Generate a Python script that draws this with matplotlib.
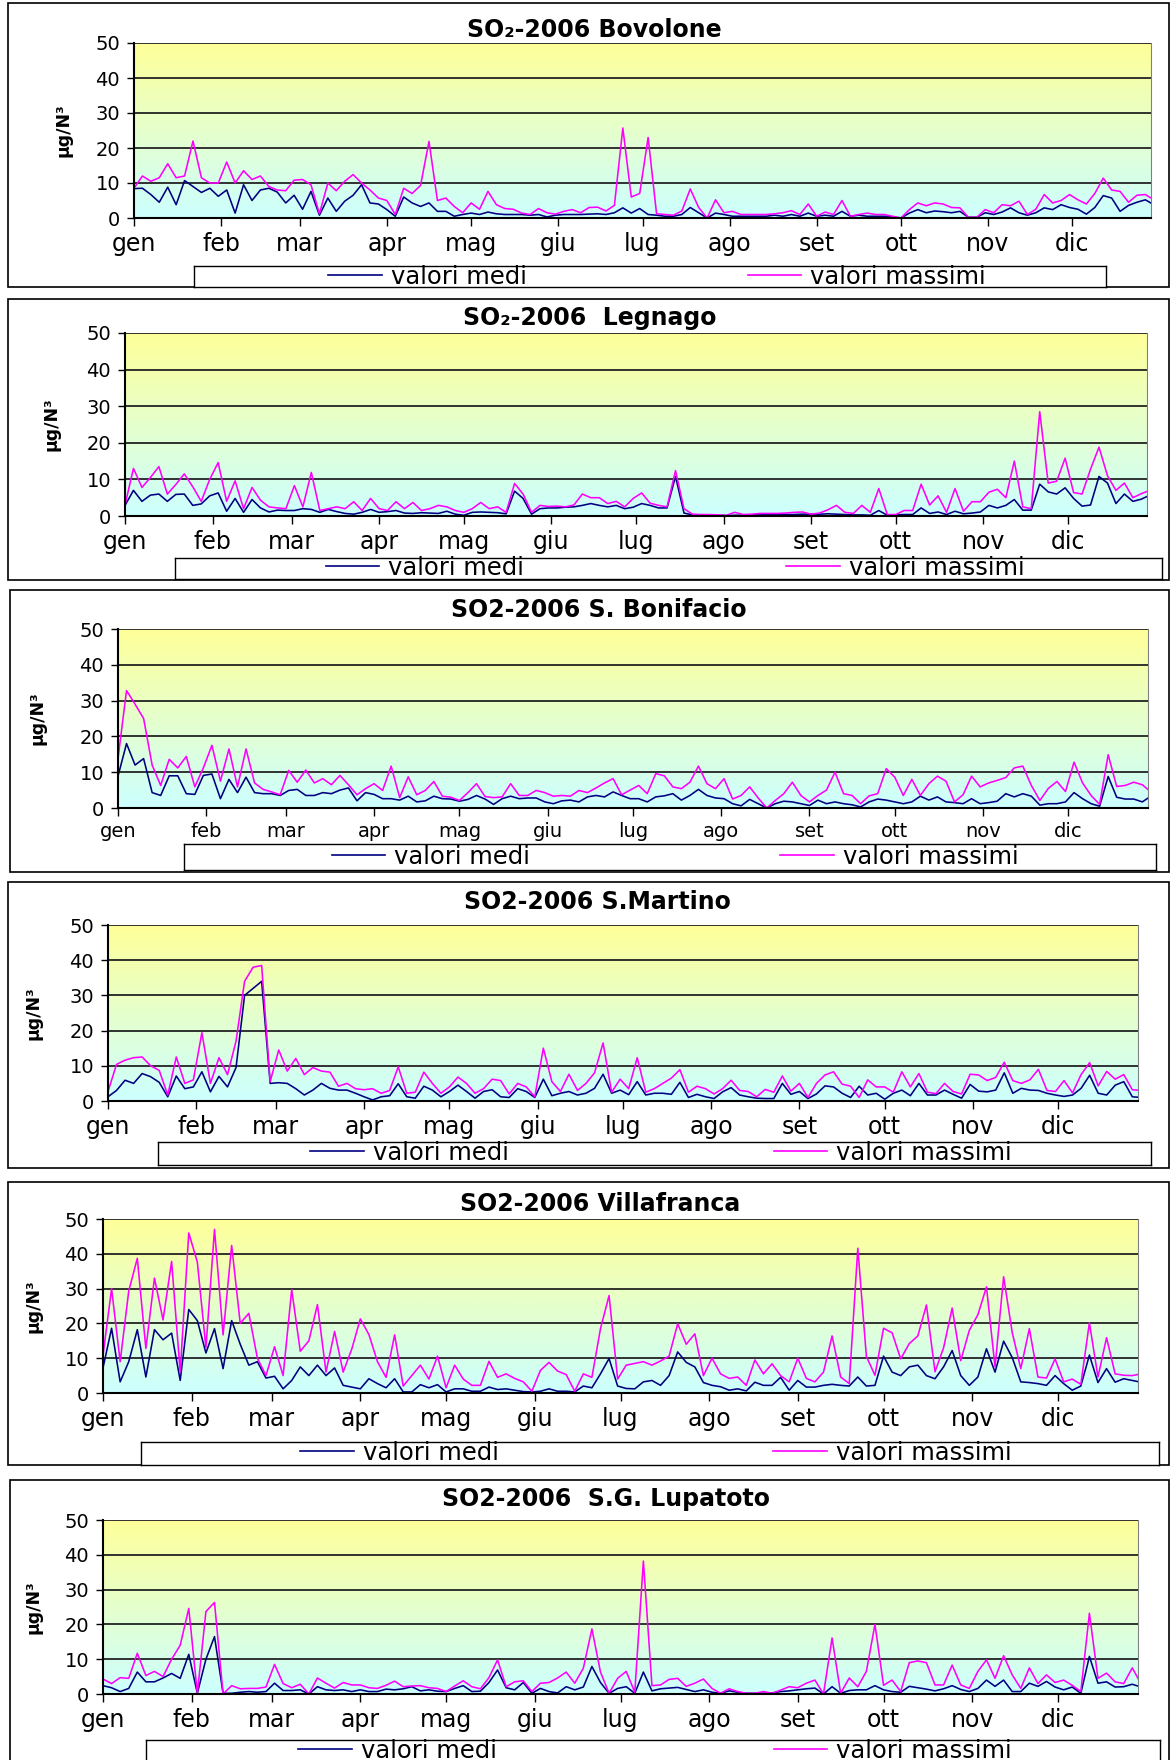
import numpy as np
import matplotlib.pyplot as plt
from matplotlib.colors import LinearSegmentedColormap
from matplotlib.lines import Line2D
from matplotlib.patches import Rectangle

# SO2 2006, values every 3 days (day 0, 3, ..., 363)
step = 3
months = ['gen', 'feb', 'mar', 'apr', 'mag', 'giu', 'lug', 'ago', 'set', 'ott', 'nov', 'dic']
month_start = [0, 31, 59, 90, 120, 151, 181, 212, 243, 273, 304, 334]

bovolone_medi = [8.4, 8.5, 6.7, 4.5, 8.8, 3.8, 10.7, 9, 7.3, 8.5,
                 6.2, 8, 1.4, 9.5, 5, 8, 8.5, 7.4, 4.3, 6.5,
                 2.5, 7.6, 0.8, 5.7, 1.9, 4.8, 6.5, 9.5, 4.3, 4,
                 2.4, 0.5, 6, 4.3, 3.3, 4.3, 1.9, 1.9, 0.5, 1,
                 1.4, 1, 1.7, 1.2, 1, 1, 1, 0.8, 1, 0.3,
                 0.8, 1, 1, 1, 1.1, 1.2, 1, 1.5, 2.9, 1.4,
                 2.7, 1, 0.8, 0.5, 0.5, 1, 3, 1.5, 0, 1.4,
                 1, 0.5, 0.5, 0.5, 0.5, 0.5, 0.8, 0.5, 1, 0.5,
                 1.4, 0.5, 0.8, 0.5, 1.9, 0.5, 0.8, 0.5, 0.5, 0.5,
                 0.3, 0, 1.4, 2.4, 1.5, 2, 1.8, 1.5, 1.9, 0.2,
                 0.2, 1.5, 1, 1.7, 2.9, 1.5, 0.8, 1.5, 2.9, 2.4,
                 3.8, 3, 2.5, 1.1, 3, 6.4, 5.7, 1.9, 3.6, 4.5,
                 5.2, 3.8]
bovolone_max = [8.5, 12, 10.5, 11.5, 15.5, 11.5, 12, 22, 11.5, 10,
                10, 16, 10, 13.5, 11, 12, 9, 8, 7.8, 10.8,
                11, 9.5, 1.2, 10, 7.8, 10.5, 12.4, 10, 8, 5.7,
                5, 1, 8.5, 7, 9.3, 21.9, 5, 5.7, 3.3, 1.5,
                4.3, 2.5, 7.6, 3.8, 2.7, 2.5, 1.4, 1, 2.7, 1.5,
                1.1, 1.9, 2.4, 1.5, 3, 3.1, 2, 3.6, 25.7, 6,
                7, 23, 1.2, 1, 0.8, 2, 8.3, 3, 0, 5.2,
                1.5, 1.9, 1, 1, 1, 1, 1.2, 1.5, 2.1, 1,
                4, 0.5, 1.7, 1, 5, 0.5, 1, 1.4, 1, 1,
                0.5, 0, 2.4, 4.3, 3.5, 4.3, 4, 3, 2.9, 0.2,
                0.2, 2.4, 1.5, 3.8, 3.5, 4.8, 1, 2.5, 6.7, 4.3,
                5, 6.7, 5.2, 4, 7, 11.4, 8, 7.6, 4.5, 6.5,
                6.7, 5.2]

legnago_medi = [2.9, 7, 4, 5.7, 6, 4, 5.9, 6, 2.9, 3.3,
                5.5, 6.3, 1.3, 4.8, 1, 4.5, 2.2, 1.1, 1.6, 1.5,
                1.5, 2, 1.8, 1, 1.8, 1.2, 0.7, 0.5, 1, 1.8,
                1, 1.2, 1.5, 0.8, 0.7, 0.9, 0.8, 0.7, 1.3, 0.5,
                0.2, 1, 1.1, 1, 0.9, 0.6, 6.8, 4.8, 0.5, 2,
                2.2, 2.2, 2.4, 2.5, 2.9, 3.4, 2.9, 2.5, 2.9, 2,
                2.4, 3.4, 2.9, 2.2, 2.2, 10.8, 0.8, 0.3, 0.2, 0.2,
                0.2, 0.1, 0.2, 0.2, 0.3, 0.4, 0.4, 0.4, 0.4, 0.4,
                0.5, 0.5, 0.5, 0.6, 0.5, 0.4, 0.3, 0.3, 0.2, 1.5,
                0.2, 0.3, 0.4, 0.4, 2.2, 0.7, 1.1, 0.4, 1.3, 0.6,
                0.8, 1.1, 2.9, 2.2, 2.9, 4.5, 1.6, 1.6, 8.7, 6.6,
                6, 7.7, 4.8, 2.7, 3, 10.8, 9, 3.4, 6, 4,
                4.6, 5.7]
legnago_max = [3, 13, 7.8, 10.5, 13.5, 6, 8.6, 11.5, 8, 4,
               10, 14.6, 4, 9.6, 2, 7.8, 4.3, 2.5, 2.2, 2,
               8.3, 2.5, 11.9, 1.5, 2, 2.5, 2, 3.9, 1.5, 4.8,
               2, 1.5, 3.9, 2, 3.7, 1.5, 2, 2.9, 2.5, 1.5,
               1, 2, 3.7, 2, 2.5, 1, 8.9, 6, 1, 2.9,
               2.6, 2.7, 2.5, 3, 6, 5, 5, 3.4, 4, 2.5,
               4.8, 6.3, 3.5, 2.9, 2.5, 12.4, 2, 0.5, 0.4, 0.4,
               0.3, 0.2, 1, 0.4, 0.5, 0.7, 0.7, 0.7, 0.8, 1,
               1.1, 0.5, 0.8, 1.7, 2.9, 1, 0.7, 2.9, 1, 7.5,
               0.4, 0.4, 1.5, 1.5, 8.7, 3, 5.5, 1, 7.5, 1.3,
               3.9, 3.9, 6.5, 7.3, 5, 15, 2.5, 2, 28.5, 9,
               9.5, 15.8, 6.4, 6, 12.8, 18.8, 11, 7, 9, 5,
               6.1, 7]

bonifacio_medi = [8.9, 18, 12, 13.8, 4.3, 3.5, 9, 9, 4, 3.8,
                  9.1, 9.5, 2.6, 8, 4.3, 8.6, 4.3, 4, 4, 3.5,
                  4.9, 5.2, 3.5, 3.5, 4.3, 4, 5, 5.6, 2, 4.3,
                  3.8, 2.6, 2.6, 2.2, 3.3, 1.7, 2, 3.3, 2.6, 2.5,
                  1.9, 2.4, 3.5, 2.5, 1, 2.6, 3.3, 2.6, 2.8, 2.8,
                  1.7, 1.2, 2, 2.2, 1.7, 3.1, 3.5, 3.1, 4.5, 3.5,
                  2.6, 2.6, 1.7, 3.1, 3.4, 4, 2.2, 3.5, 5.2, 3.5,
                  2.8, 2.6, 1.2, 0.6, 2.4, 1.2, 0, 1.2, 1.9, 1.7,
                  1.2, 0.7, 2.2, 1.2, 1.7, 1.2, 0.9, 0.3, 1.7, 2.5,
                  2.2, 1.7, 1.2, 1.7, 3.3, 2.2, 3.1, 1.7, 1.5, 1.2,
                  2.6, 1.2, 1.5, 1.9, 4, 3.1, 4, 3.3, 0.8, 1.2,
                  1.2, 1.7, 4.3, 2.6, 1.2, 0.5, 8.8, 3, 2.5, 2.5,
                  1.7, 3.3]
bonifacio_max = [13.8, 32.8, 29, 25, 12, 6.3, 13.6, 11.2, 14.4, 5.9,
                 11.2, 17.5, 7.5, 16.5, 5.9, 16.5, 7, 5.2, 4.5, 3.7,
                 10.5, 7.2, 10.6, 7, 8.2, 6.5, 9.1, 6.5, 3.7, 5.4,
                 6.8, 4.9, 11.7, 2.9, 8.7, 3.7, 4.9, 7.4, 3.3, 3,
                 2.1, 4.3, 6.8, 3.2, 2.9, 3.1, 6.8, 3.5, 3.5, 4.9,
                 4.3, 3.3, 3.5, 3.3, 4.9, 4.3, 5.6, 7, 8.2, 3.7,
                 5, 6.3, 4, 9.6, 9, 5.9, 5.4, 7.2, 11.7, 6.8,
                 5.4, 8.2, 2.5, 3.5, 5.9, 2.8, 0, 2.1, 4, 7.2,
                 3.5, 1.7, 3.5, 5, 10, 4, 3.5, 1.2, 3.4, 4,
                 11, 8.6, 3.5, 8, 3.5, 6.8, 8.9, 7.5, 1.7, 3.7,
                 8.9, 5.9, 7, 7.7, 8.5, 11.2, 11.7, 6.3, 2.1, 5.5,
                 7.4, 4.6, 12.8, 7, 3.5, 1, 14.9, 6, 6.3, 7.2,
                 6.5, 4.5]

martino_medi = [1.2, 3, 5.9, 5, 7.8, 6.9, 5.3, 1.2, 7.1, 3.5,
                4, 8.3, 2.6, 7, 4, 9.5, 30, 32, 34, 5,
                5.2, 5, 3.5, 1.7, 3.1, 5, 3.6, 3.1, 3.1, 2.2,
                1.2, 0.3, 1.2, 1.5, 4.9, 1.2, 0.8, 4.2, 3.1, 1.2,
                2.7, 4.5, 2.7, 0.8, 2.7, 3.2, 1.2, 1, 3.5, 2.7,
                1, 6.2, 1.5, 2.2, 2.7, 1.7, 2.2, 3.6, 7.6, 2.2,
                3.1, 1.8, 5.5, 1.7, 2.2, 2.2, 1.9, 5.3, 1, 1.9,
                1.2, 0.7, 2.6, 3.8, 1.7, 1.2, 0.8, 0.7, 0.7, 5,
                1.9, 2.7, 0.7, 2, 4.3, 4, 2.2, 1, 4.2, 1.7,
                2.2, 0.5, 2.2, 3.1, 1.5, 5, 1.7, 1.7, 3.1, 1.9,
                0.8, 4.7, 2.8, 2.6, 3.1, 8, 2.2, 3.6, 3.1, 3,
                2.2, 1.7, 1.3, 1.7, 3.6, 7.3, 2.2, 1.7, 4.5, 5.5,
                1.2, 1]
martino_max = [2.7, 10.4, 11.6, 12.3, 12.5, 10, 8.7, 1.7, 12.5, 5,
               6, 19.4, 5, 12.3, 7.5, 17, 34, 38, 38.5, 5.5,
               14.5, 8.5, 12.1, 7.5, 9.5, 8.5, 8.2, 4.2, 5, 3.5,
               3.2, 3.5, 2.2, 3, 9.7, 2.2, 2.5, 8.2, 5, 2.2,
               4, 6.8, 5, 2.2, 3.5, 6.2, 5.8, 2, 5, 4,
               1.2, 15, 5.5, 2.7, 7.6, 3, 5, 8, 16.5, 2.5,
               6.2, 3.5, 12.3, 2.5, 3.5, 5, 6.5, 8.9, 2.5, 4.2,
               3.5, 2, 3.5, 5.9, 3, 2.7, 1.2, 3.3, 2.5, 7.1,
               2.8, 5, 1, 5, 7.4, 8.3, 4.8, 4.2, 1, 6,
               4, 4, 2.5, 8.3, 4, 7.8, 2.5, 2.1, 5, 2.7,
               2, 7.6, 7.4, 5.8, 6.7, 11, 5.8, 5, 6, 9,
               3, 2.7, 5.8, 2.3, 7.5, 10.9, 4.3, 8.4, 6.2, 7.5,
               3.2, 3]

villafranca_medi = [7.2, 18.6, 3.2, 9, 18.2, 4.6, 18.2, 15.3, 17.2, 3.6,
                    24, 20.8, 11.5, 18.5, 7, 20.8, 14, 8, 9, 4.3,
                    4.8, 1.2, 3.6, 7.5, 5, 8, 5, 7.2, 2.2, 1.7,
                    1.2, 4.1, 2.7, 1.5, 4.1, 0.3, 0.3, 2.4, 1.5, 2.4,
                    0.3, 1.2, 1.2, 0.5, 0.5, 1.7, 1, 1.2, 0.8, 0.4,
                    0.3, 0.5, 1.2, 0.5, 0.5, 0.3, 2, 1.5, 5.5, 9.9,
                    2, 1.3, 1.2, 3.2, 3.6, 2.2, 5, 11.8, 8.8, 7.5,
                    3, 2.2, 1.8, 0.8, 1.2, 0.6, 3.1, 2.2, 2.2, 4.5,
                    0.8, 3.6, 1.7, 1.7, 2.2, 2.5, 2.2, 2, 4.6, 2,
                    2.2, 10.6, 6, 5, 7.5, 8, 5, 4.1, 7.5, 12.2,
                    5, 2.2, 4.6, 12.7, 6, 14.9, 10.2, 3.2, 3, 2.7,
                    2.2, 5, 2.7, 0.8, 2, 10.9, 3, 7, 3.1, 4.1,
                    3.6, 3.1]
villafranca_max = [10.8, 30, 9, 29.3, 38.7, 12.8, 33, 21, 37.8, 6,
                   46, 37.6, 13, 47, 16.7, 42.4, 20, 22.9, 10, 5,
                   13.3, 5, 29.7, 12, 15, 25.4, 6, 17.7, 6, 12.6,
                   21.3, 16.8, 9, 4.5, 16.7, 2, 5, 8, 4, 10.6,
                   1.5, 8, 4, 2.2, 2.2, 9.1, 4.5, 5.5, 4.2, 3.2,
                   0.5, 6.5, 8.8, 6.3, 5.3, 0.5, 5.5, 4.5, 18.5, 28,
                   4, 8, 8.5, 9, 8, 9.2, 10.6, 19.9, 14, 17,
                   5, 10, 5.5, 4.2, 4.6, 2.2, 9.5, 5.5, 8.4, 5,
                   3.2, 10, 4.2, 3.2, 6, 16.4, 4.6, 2.7, 41.6, 10.5,
                   5.1, 18.6, 17.3, 9.8, 14.2, 16.4, 25.3, 6.1, 13, 24.4,
                   9.3, 18, 22.5, 30.5, 7.5, 33.4, 17.4, 7, 18.5, 4.6,
                   4.3, 9.8, 3.2, 4, 2.5, 20.2, 4.6, 15.9, 5.5, 5.1,
                   5, 5.5]

lupatoto_medi = [2.4, 1.8, 0.7, 1.6, 6.3, 3.5, 3.5, 4.6, 5.9, 4.5,
                 11.4, 0.2, 10, 16.5, 0.2, 0.2, 0.5, 0.7, 0.5, 0.7,
                 3.1, 1, 1, 1.2, 0, 2.1, 1.2, 1, 1.2, 0.7,
                 1.2, 0.7, 0.7, 1.4, 1.2, 1.5, 2.1, 0.9, 1.2, 0.8,
                 0.7, 1.6, 2.4, 0.7, 0.8, 3.3, 6.9, 1.8, 1.2, 3.3,
                 0.2, 1.6, 0.7, 0.3, 2.1, 1.2, 2, 7.9, 3.3, 0.2,
                 1.6, 2.1, 0.2, 6.3, 0.9, 1.5, 1.7, 1.9, 1.3, 0.7,
                 1.2, 0.5, 0.2, 0.9, 0.5, 0.2, 0.2, 0.2, 0.3, 0.7,
                 0.9, 1.2, 1.5, 1.7, 0, 2.1, 0.2, 1, 1.2, 1.2,
                 2.4, 1.2, 0.7, 0.5, 2.2, 1.8, 1.4, 0.9, 1.5, 2.4,
                 1.3, 0.7, 1.6, 4, 2.2, 4, 0.7, 0.7, 3.1, 2.2,
                 3.6, 2, 1.2, 2, 0.2, 10.8, 3.1, 3.5, 2, 2.1,
                 2.8, 2]
lupatoto_max = [4.3, 3, 4.7, 4.5, 11.7, 5.3, 6.5, 5, 10, 14,
                24.6, 0.2, 23.7, 26.3, 0, 2.4, 1.5, 1.6, 1.6, 2,
                8.5, 3, 1.8, 2.8, 0, 4.6, 3.1, 1.7, 3.3, 2.6,
                2.6, 1.8, 1.6, 2.5, 3.7, 2.1, 2.3, 2.4, 1.8, 1.6,
                0.7, 2.3, 3.8, 2.1, 1.5, 4.7, 9.8, 2.1, 3.5, 3.8,
                0.7, 3.1, 3.3, 4.6, 6.3, 3.1, 7.4, 18.7, 6.3, 0.2,
                4.5, 6.5, 0.5, 38.2, 2.4, 2.6, 4.2, 4.5, 2.2, 3.1,
                4.3, 1.6, 0.2, 1.5, 0.7, 0.2, 0.2, 0.7, 0.2, 1.1,
                2.1, 1.8, 3.1, 4, 0, 16.1, 0.2, 4.6, 2.1, 6.5,
                20, 2.5, 4, 0.7, 9, 9.5, 9, 2.6, 2.6, 8.3,
                2.6, 1.6, 6.5, 9.8, 4.5, 11, 5.5, 1.6, 7.5, 3,
                5.5, 3.3, 4, 2.5, 0.7, 23.2, 4.5, 6, 3.5, 3,
                7.5, 3]

titles = ['SO\u2082-2006 Bovolone', 'SO\u2082-2006  Legnago', 'SO2-2006 S. Bonifacio',
          'SO2-2006 S.Martino', 'SO2-2006 Villafranca', 'SO2-2006  S.G. Lupatoto']
series = [(bovolone_medi, bovolone_max), (legnago_medi, legnago_max),
          (bonifacio_medi, bonifacio_max), (martino_medi, martino_max),
          (villafranca_medi, villafranca_max), (lupatoto_medi, lupatoto_max)]

W, H = 1171, 1760
NAVY, MAGENTA = '#000080', '#FF00FF'
bg_cmap = LinearSegmentedColormap.from_list('bg', ['#FFFF99', '#CCFFFF'])


def frac(x0, y0, x1, y1):
    # pixel box (top-left origin) -> figure fraction rect
    return [x0 / W, 1 - y1 / H, (x1 - x0) / W, (y1 - y0) / H]


# pixel layout of each panel
plots = [(134, 43, 1151, 218), (125, 333, 1147, 516), (118, 629, 1148, 808),
         (108, 925, 1138, 1101), (103, 1219, 1138, 1393), (103, 1520, 1138, 1694)]
boxes = [(8, 3, 1169, 287), (8, 299, 1169, 580), (10, 590, 1169, 872),
         (8, 882, 1169, 1168), (8, 1182, 1169, 1465), (10, 1480, 1169, 1800)]
legends = [(194, 266, 1106, 287), (175, 558, 1162, 579), (184, 844, 1156, 870),
           (158, 1142, 1151, 1165), (141, 1442, 1159, 1465), (146, 1740, 1160, 1800)]
legend_c = [(657, 277), (675, 568), (675, 857), (661, 1153), (656, 1453), (655, 1751)]
col_space = [9.1, 10.8, 10.3, 10.9, 11.3, 11.4]
title_xy = [(594, 30), (590, 318), (599, 610), (597, 902), (600, 1204), (606, 1499)]
ylabel_x = [63, 52, 37, 34, 34, 34]
month_size = [17, 17, 14, 17, 17, 17]

fig = plt.figure(figsize=(W / 100, H / 100), dpi=100)

for i in range(6):
    medi, mx = series[i]
    rect = frac(*plots[i])

    bg = fig.add_axes(rect, zorder=1)
    bg.imshow(np.linspace(0, 1, 256).reshape(-1, 1), cmap=bg_cmap, aspect='auto')
    bg.axis('off')

    ax = fig.add_axes(rect, zorder=2)
    ax.set_facecolor('none')
    ax.plot(np.arange(len(medi)) * step, medi, color=NAVY, lw=1.15)
    ax.plot(np.arange(len(mx)) * step, mx, color=MAGENTA, lw=1.15)
    ax.set_xlim(0, 362)
    ax.set_ylim(0, 50)
    ax.set_yticks(range(0, 51, 10))
    ax.set_xticks(month_start)
    ax.set_xticklabels(months)
    ax.set_axisbelow(True)
    ax.yaxis.grid(True, color='#222222', lw=1.3)
    ax.spines['top'].set_visible(False)
    ax.spines['right'].set_color('#808080')
    ax.spines['left'].set_linewidth(1.5)
    ax.spines['bottom'].set_linewidth(1.5)
    ax.tick_params(axis='x', length=6, width=1, pad=4, labelsize=month_size[i])
    ax.tick_params(axis='y', length=5, width=1, pad=5, labelsize=14)

    tx, ty = title_xy[i]
    fig.text(tx / W, 1 - ty / H, titles[i], ha='center', va='center',
             fontsize=17, fontweight='bold')
    yc = (plots[i][1] + plots[i][3]) / 2
    fig.text(ylabel_x[i] / W, 1 - yc / H, 'µg/N³', rotation=90, ha='center',
             va='center', fontsize=12.5, fontweight='bold')

    bx0, by0, bx1, by1 = boxes[i]
    fig.add_artist(Rectangle((bx0 / W, 1 - by1 / H), (bx1 - bx0) / W, (by1 - by0) / H,
                             transform=fig.transFigure, fill=False, ec='black', lw=1.2))

    lax = fig.add_axes(frac(*legends[i]), zorder=3)
    lax.set_xticks([])
    lax.set_yticks([])
    for s in lax.spines.values():
        s.set_linewidth(1)
    handles = [Line2D([], [], color=NAVY, lw=1.2), Line2D([], [], color=MAGENTA, lw=1.2)]
    lx, ly = legend_c[i]
    lax.legend(handles, ['valori medi', 'valori massimi'], loc='center', ncol=2,
               frameon=False, fontsize=17.5, handlelength=2.2, handletextpad=0.37,
               columnspacing=col_space[i], borderpad=0,
               bbox_to_anchor=(lx / W, 1 - ly / H), bbox_transform=fig.transFigure)

fig.savefig('out.png', dpi=100)
